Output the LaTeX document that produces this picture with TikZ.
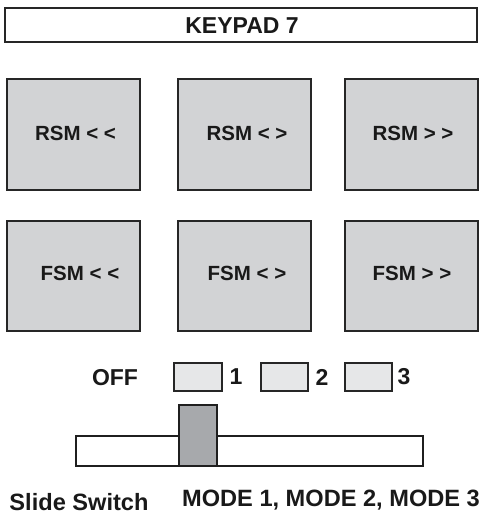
\documentclass[tikz,border=0pt]{standalone}
\usepackage{fontspec}
\setmainfont{Liberation Sans}
\begin{document}
\begin{tikzpicture}[x=1pt,y=-1pt,
  txt/.style={text=black!90, font=\bfseries\fontsize{23}{23}\selectfont, inner sep=0pt, anchor=center},
  bigtxt/.style={text=black!90, font=\bfseries\fontsize{23.6}{23.6}\selectfont, inner sep=0pt, anchor=center},
  btxt/.style={text=black!90, font=\bfseries\fontsize{20.5}{20.5}\selectfont, inner sep=0pt, anchor=center},
  keybox/.style={draw=black!85, line width=1.8pt, fill=keygray},
  smallbox/.style={draw=black!85, line width=1.4pt, fill=lightgray2},
]
\definecolor{keygray}{HTML}{D2D3D5}
\definecolor{lightgray2}{HTML}{E6E7E8}
\definecolor{knobgray}{HTML}{A7A9AC}
\useasboundingbox (0,0) rectangle (481,518);
% title
\draw[draw=black!85, line width=1.3pt] (5,8) rectangle (477,42);
\node[txt] (title) at (242,26) {KEYPAD 7};
% row 1
\draw[keybox] (7,79) rectangle (140,190);
\draw[keybox] (178,79) rectangle (311,190);
\draw[keybox] (345,79) rectangle (478,190);
\node[btxt] (r1) at (75.5,133.5) {RSM < <};
\node[btxt] (r2) at (247,133.5) {RSM < >};
\node[btxt] (r3) at (413,133.5) {RSM > >};
% row 2
\draw[keybox] (7,221) rectangle (140,331);
\draw[keybox] (178,221) rectangle (311,331);
\draw[keybox] (345,221) rectangle (478,331);
\node[btxt] (f1) at (80,273.5) {FSM < <};
\node[btxt] (f2) at (247,273.5) {FSM < >};
\node[btxt] (f3) at (412,273.5) {FSM > >};
% mode indicators
\node[txt] (off) at (115,378) {OFF};
\draw[smallbox] (174,363) rectangle (222,391);
\draw[smallbox] (261,363) rectangle (308,391);
\draw[smallbox] (345,363) rectangle (392,391);
\node[txt] (m1) at (236,377) {1};
\node[txt] (m2) at (322,377) {2};
\node[txt] (m3) at (404,377) {3};
% slide switch
\draw[draw=black!88, line width=1.8pt, fill=white] (76,436) rectangle (423,466);
\draw[draw=black!88, line width=1.8pt, fill=knobgray] (179,405) rectangle (217,466);
% bottom labels
\node[bigtxt] (ss) at (79,502) {Slide Switch};
\node[bigtxt] (modes) at (331,500) {MODE 1, MODE 2, MODE 3};
\end{tikzpicture}
\end{document}
